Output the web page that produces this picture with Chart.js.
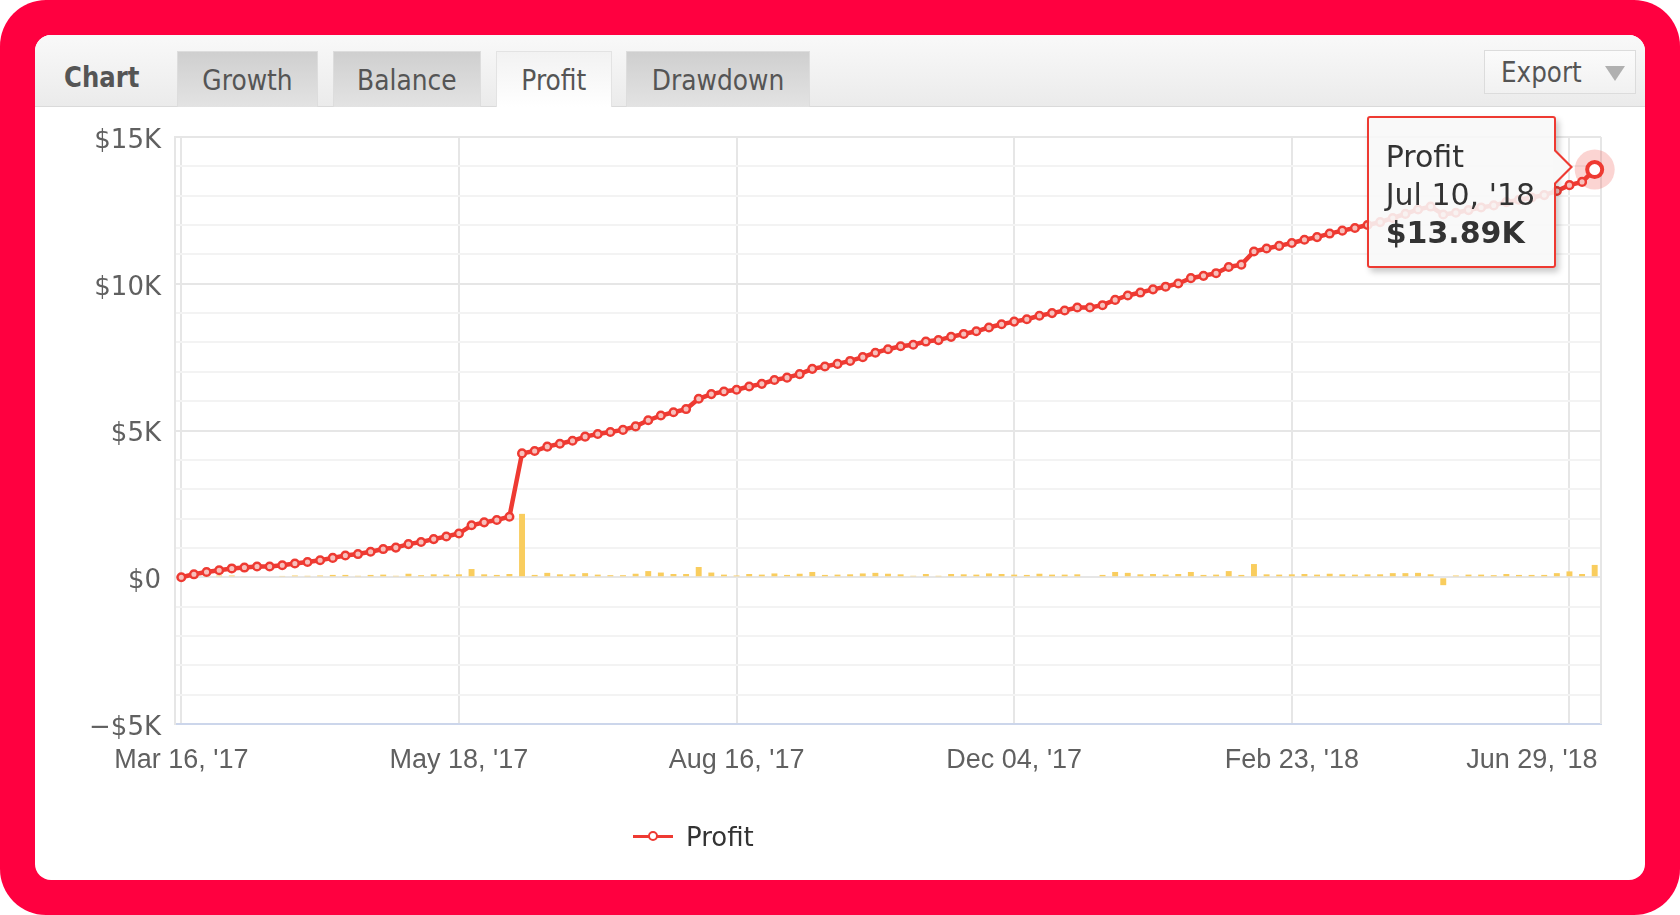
<!DOCTYPE html>
<html>
<head>
<meta charset="utf-8">
<script src="https://cdn.jsdelivr.net/npm/chart.js@4.4.1/dist/chart.umd.min.js"></script>
<style>
html,body{margin:0;padding:0;background:#fff;}
body{width:1680px;height:915px;position:relative;overflow:hidden;font-family:'DejaVu Sans',sans-serif;}
#frame{position:absolute;left:0;top:0;width:1680px;height:915px;background:#ff0040;border-radius:46px;}
#panel{position:absolute;left:35px;top:35px;width:1610px;height:845px;background:#fff;border-radius:16px;overflow:hidden;}
#header{position:absolute;left:0;top:0;width:1610px;height:71px;background:linear-gradient(#f9f9f9,#ebebeb);border-bottom:1px solid #dadada;}
#ttl{position:absolute;left:29px;top:20px;height:44px;line-height:44px;font-size:29px;font-weight:bold;color:#555;transform:scaleX(0.84);transform-origin:left center;}
.tab{position:absolute;top:16px;height:56px;box-sizing:border-box;background:linear-gradient(#cfcfcf,#e3e3e3);border:1px solid #dddddd;border-bottom:none;color:#555;font-size:29px;display:flex;align-items:center;justify-content:center;}
.tab span{display:inline-block;transform:scaleX(0.86);}
.tab.active{background:linear-gradient(#f2f2f2,#ffffff);border-color:#e3e3e3;}
#export{position:absolute;left:1449px;top:15px;width:152px;height:44px;box-sizing:border-box;background:linear-gradient(#fbfbfb,#f1f1f1);border:1px solid #dcdcdc;color:#555;font-size:29px;}
#export span{position:absolute;left:16px;top:0;line-height:42px;transform:scaleX(0.85);transform-origin:left center;}
#export i{position:absolute;left:120px;top:15px;width:0;height:0;border-left:10px solid transparent;border-right:10px solid transparent;border-top:15px solid #b0b0b0;}
#wrap{position:absolute;left:35px;top:107px;width:1610px;height:720px;}
#legend{position:absolute;left:633px;top:818px;height:38px;display:flex;align-items:center;font-size:26px;color:#333;}
#legend .ic{position:relative;width:40px;height:38px;margin-right:13px;}
#legend .ic:before{content:'';position:absolute;left:0;top:17px;width:40px;height:3px;background:#ee3a32;}
#legend .ic:after{content:'';position:absolute;left:15px;top:13px;width:6px;height:6px;border:2px solid #ee3a32;border-radius:50%;background:#fff;}
#tip{position:absolute;width:189px;height:152px;box-sizing:border-box;padding:20px 0 0 17px;background:rgba(248,248,248,0.88);border:2px solid #ee3a32;border-radius:3px;box-shadow:3px 4px 6px rgba(0,0,0,0.22);font-size:30px;line-height:38px;color:#333;white-space:nowrap;opacity:0;}
#tip .v{font-weight:bold;}
#tip:before{content:'';position:absolute;right:-19px;top:30px;width:0;height:0;border-top:19px solid transparent;border-bottom:19px solid transparent;border-left:19px solid #ee3a32;}
#tip:after{content:'';position:absolute;right:-16px;top:32px;width:0;height:0;border-top:17px solid transparent;border-bottom:17px solid transparent;border-left:17px solid #f8f8f8;}
</style>
</head>
<body>
<div id="frame"></div>
<div id="panel">
  <div id="header">
    <div id="ttl">Chart</div>
    <div class="tab" style="left:142px;width:141px;"><span>Growth</span></div>
    <div class="tab" style="left:298px;width:148px;"><span>Balance</span></div>
    <div class="tab active" style="left:461px;width:116px;"><span>Profit</span></div>
    <div class="tab" style="left:591px;width:184px;"><span>Drawdown</span></div>
    <div id="export"><span>Export</span><i></i></div>
  </div>
</div>
<div id="wrap"><canvas id="c" width="1610" height="720"></canvas></div>
<div id="legend"><div class="ic"></div><span>Profit</span></div>
<div id="tip"></div>
<script>
// cumulative profit, one value per trading point (USD)
const profit = [0,100,180,240,300,330,365,365,410,470,
  520,580,660,740,790,870,960,1010,1130,1200,
  1300,1390,1490,1770,1870,1950,2060,4220,4300,4450,
  4550,4650,4790,4880,4950,5020,5140,5350,5510,5620,
  5730,6080,6240,6330,6390,6500,6590,6720,6800,6920,
  7100,7180,7270,7370,7500,7650,7770,7870,7920,8030,
  8080,8190,8290,8380,8510,8620,8710,8790,8910,9000,
  9090,9190,9190,9270,9450,9600,9700,9810,9900,10010,
  10190,10270,10360,10570,10650,11100,11200,11290,11390,11500,
  11590,11710,11810,11900,12000,12100,12240,12380,12530,12630,
  12360,12420,12510,12600,12670,12780,12860,12940,13020,13160,
  13360,13470,13890];
// profit of each point (yellow bars, USD)
const dailyProfit = [0,100,80,60,60,30,35,0,45,60,
  50,60,80,80,50,80,90,50,120,70,
  100,90,100,280,100,80,110,2160,80,150,
  100,100,140,90,70,70,120,210,160,110,
  110,350,160,90,60,110,90,130,80,120,
  180,80,90,100,130,150,120,100,50,110,
  50,110,100,90,130,110,90,80,120,90,
  90,100,0,80,180,150,100,110,90,110,
  180,80,90,210,80,450,100,90,100,110,
  90,120,100,90,100,100,140,140,150,100,
  -270,60,90,90,70,110,80,80,80,140,
  200,110,420];
// x-axis tick labels and the point index they sit on
const tickIndex = [0,22,44,66,88,110];
const tickLabels = ["Mar 16, '17","May 18, '17","Aug 16, '17","Dec 04, '17","Feb 23, '18","Jun 29, '18"];
const lastDate = "Jul 10, '18";
const seriesName = 'Profit';

const RED = '#ee3a32';
const pointLabels = profit.map((_, i) => i);

function money(v){
  if (v === 0) return '$0';
  return (v < 0 ? '\u2212$' : '$') + Math.abs(v/1000) + 'K';
}

const framePlugin = {
  id:'frame',
  beforeDatasetsDraw(chart){
    const {ctx, chartArea:a} = chart;
    ctx.save();
    ctx.strokeStyle = '#e6e6e6'; ctx.lineWidth = 2;
    ctx.beginPath(); ctx.moveTo(a.right, a.top); ctx.lineTo(a.right, a.bottom); ctx.stroke();
    chart.getActiveElements().forEach(e => {
      if (e.datasetIndex !== 0) return;
      ctx.fillStyle = 'rgba(238,58,50,0.22)';
      ctx.beginPath(); ctx.arc(e.element.x, e.element.y, 20, 0, Math.PI*2); ctx.fill();
    });
    ctx.restore();
  }
};

function externalTip(context){
  const {chart, tooltip} = context;
  const el = document.getElementById('tip');
  if (tooltip.opacity === 0 || !tooltip.dataPoints || !tooltip.dataPoints.length) { el.style.opacity = 0; return; }
  const dp = tooltip.dataPoints[0];
  el.innerHTML = '<div>' + dp.dataset.label + '</div><div>' + lastDate + '</div><div class="v">$' + (dp.raw/1000).toFixed(2) + 'K</div>';
  const wrap = document.getElementById('wrap');
  el.style.left = (wrap.offsetLeft + tooltip.caretX - 39 - 189) + 'px';
  el.style.top = (wrap.offsetTop + tooltip.caretY - 54) + 'px';
  el.style.opacity = 1;
}

const chart = new Chart(document.getElementById('c'), {
  type:'bar',
  data:{
    labels: pointLabels,
    datasets:[
      {type:'line', label:seriesName, data:profit, borderColor:RED, borderWidth:4.5,
       pointRadius:3.8, pointBorderWidth:2.5, pointBackgroundColor:'#f7c0bc', pointBorderColor:RED,
       pointHoverRadius:7.5, pointHoverBorderWidth:4, pointHoverBackgroundColor:'#ffffff', pointHoverBorderColor:RED,
       tension:0, order:0},
      {type:'bar', label:'Daily', data:dailyProfit, backgroundColor:'#f9cd5e',
       barPercentage:0.47, categoryPercentage:1, order:1}
    ]
  },
  options:{
    responsive:false, animation:false, events:[],
    layout:{padding:{top:30, right:44, left:0, bottom:33}},
    plugins:{
      legend:{display:false},
      tooltip:{enabled:false, external:externalTip, filter: it => it.datasetIndex === 0}
    },
    scales:{
      x:{
        offset:true,
        grid:{offset:false, drawTicks:false, lineWidth:2,
              color: c => tickIndex.includes(c.index) ? '#e6e6e6' : 'rgba(0,0,0,0)'},
        border:{color:'#ccd6eb', width:2},
        ticks:{autoSkip:false, maxRotation:0, minRotation:0, padding:20, color:'#606060',
               font:{family:'Liberation Sans', size:27},
               callback:(v, i) => {
                 const k = tickIndex.indexOf(i);
                 if (k < 0) return '';
                 return k === tickIndex.length - 1 ? tickLabels[k] + '          ' : tickLabels[k];
               }},
        afterFit: s => { s.height = 70; }
      },
      y:{
        min:-5000, max:15000,
        grid:{drawTicks:false, lineWidth:2,
              color: c => (c.tick && c.tick.value % 5000 === 0) ? '#e6e6e6' : '#f3f3f3'},
        border:{color:'#e6e6e6', width:2},
        ticks:{stepSize:1000, maxTicksLimit:30, autoSkip:false, padding:14, labelOffset:4, color:'#606060',
               font:{family:'DejaVu Sans', size:26},
               callback: v => (v % 5000 === 0 ? money(v) : '')},
        afterFit: s => { s.width = 140; }
      }
    }
  },
  plugins:[framePlugin]
});

const last = profit.length - 1;
chart.setActiveElements([{datasetIndex:0, index:last}]);
chart.render();
chart.tooltip.setActiveElements([{datasetIndex:0, index:last}], {x:0, y:0});
chart.render();
</script>
</body>
</html>
